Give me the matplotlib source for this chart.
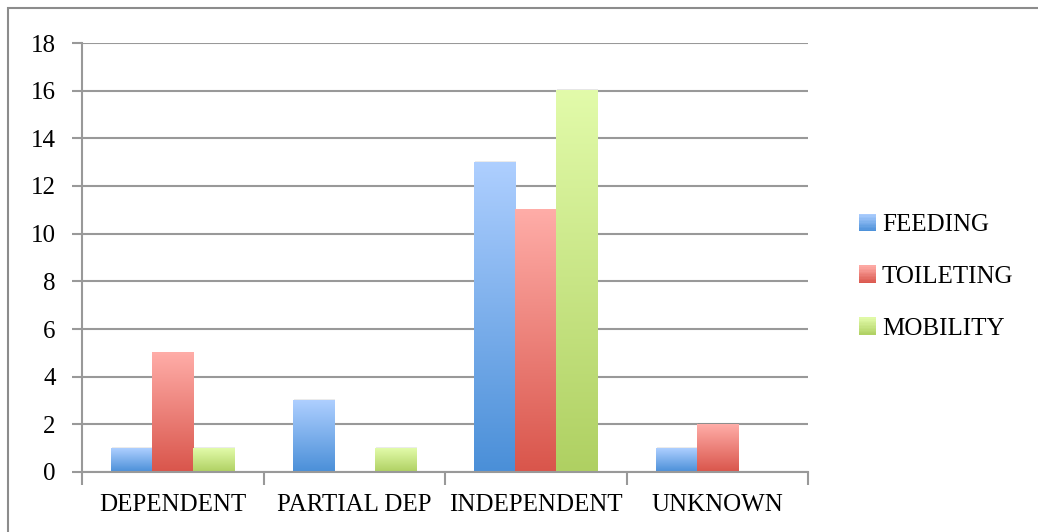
import matplotlib
matplotlib.use("Agg")
import matplotlib.pyplot as plt
import numpy as np
from matplotlib.colors import LinearSegmentedColormap, to_rgb
from matplotlib.patches import Rectangle
from matplotlib.legend_handler import HandlerBase

categories = ["DEPENDENT", "PARTIAL DEP", "INDEPENDENT", "UNKNOWN"]
series_names = ["FEEDING", "TOILETING", "MOBILITY"]
feeding = [1, 3, 13, 1]
toileting = [5, 0, 11, 2]
mobility = [1, 1, 16, 0]
series_values = [feeding, toileting, mobility]
yticks = [0, 2, 4, 6, 8, 10, 12, 14, 16, 18]

# gradient (top colour, bottom colour) per series
grad_colors = [("#AECFFF", "#4A8FD8"), ("#FFADA8", "#D9554B"), ("#E2FBAA", "#AFD062")]

plt.rcParams['font.family'] = ['Liberation Serif', 'DejaVu Serif']

fig = plt.figure(figsize=(10.38, 5.32), dpi=100)
# outer border
fig.patches.append(Rectangle((8/1038, -0.1), 1.2, (532-8)/532 + 0.1, transform=fig.transFigure,
                             fill=False, edgecolor="#8c8c8c", linewidth=1.5, zorder=0))

ax = fig.add_axes([82/1038, 60/532, (808-82)/1038, (472-43)/532])

for v in yticks:
    ax.axhline(v, color="#999999", linewidth=1.5, zorder=1)

bw = 0.226
offsets = [-bw, 0, bw]
for si, vals in enumerate(series_values):
    top, bot = grad_colors[si]
    cmap = LinearSegmentedColormap.from_list(f"g{si}", [bot, top])
    grad = np.linspace(0, 1, 256).reshape(-1, 1)
    for ci, v in enumerate(vals):
        if v <= 0:
            continue
        x0 = ci + offsets[si] - bw / 2
        sh = Rectangle((x0 + 0.006, 0), bw, v + 0.05, facecolor="#000000", alpha=0.08,
                       edgecolor="none", zorder=2)
        ax.add_patch(sh)
        ax.imshow(grad, cmap=cmap, origin="lower", aspect="auto",
                  extent=(x0, x0 + bw, 0, v), zorder=3, interpolation="bilinear")

ax.set_xlim(-0.5, len(categories) - 0.5)
ax.set_ylim(0, 18)

ax.set_yticks(yticks)
ax.set_yticklabels([str(t) for t in yticks], fontsize=18)
ax.set_xticks(range(len(categories)))
ax.set_xticklabels(categories, fontsize=18)
ax.tick_params(axis="x", length=0, pad=16)
ax.tick_params(axis="y", length=7, width=1.5, color="#999999", pad=12)
ax.set_xticks(np.arange(-0.5, len(categories), 1.0), minor=True)
ax.tick_params(axis="x", which="minor", length=9, width=1.5, color="#999999")

for s in ["top", "right"]:
    ax.spines[s].set_visible(False)
for s in ["left", "bottom"]:
    ax.spines[s].set_color("#999999")
    ax.spines[s].set_linewidth(1.5)
    ax.spines[s].set_zorder(4)


class GradHandler(HandlerBase):
    def create_artists(self, legend, orig_handle, xdescent, ydescent, width, height, fontsize, trans):
        top, bot = orig_handle.grad
        t = np.array(to_rgb(top)); b = np.array(to_rgb(bot))
        n = 12
        arts = []
        for k in range(n):
            f = (k + 0.5) / n
            c = b * (1 - f) + t * f
            r = Rectangle((-xdescent, -ydescent + height * k / n), width, height / n + 0.3,
                          facecolor=c, edgecolor="none", transform=trans)
            arts.append(r)
        return arts


handles = []
for i in range(3):
    h = Rectangle((0, 0), 1, 1)
    h.grad = grad_colors[i]
    handles.append(h)
leg = fig.legend(handles, series_names, loc="center left",
                 bbox_to_anchor=(836/1038, 1 - 277/532), frameon=False, fontsize=18,
                 handlelength=0.68, handleheight=0.68, handletextpad=0.25, labelspacing=1.18,
                 handler_map={Rectangle: GradHandler()})

fig.savefig("out.png", dpi=100)
